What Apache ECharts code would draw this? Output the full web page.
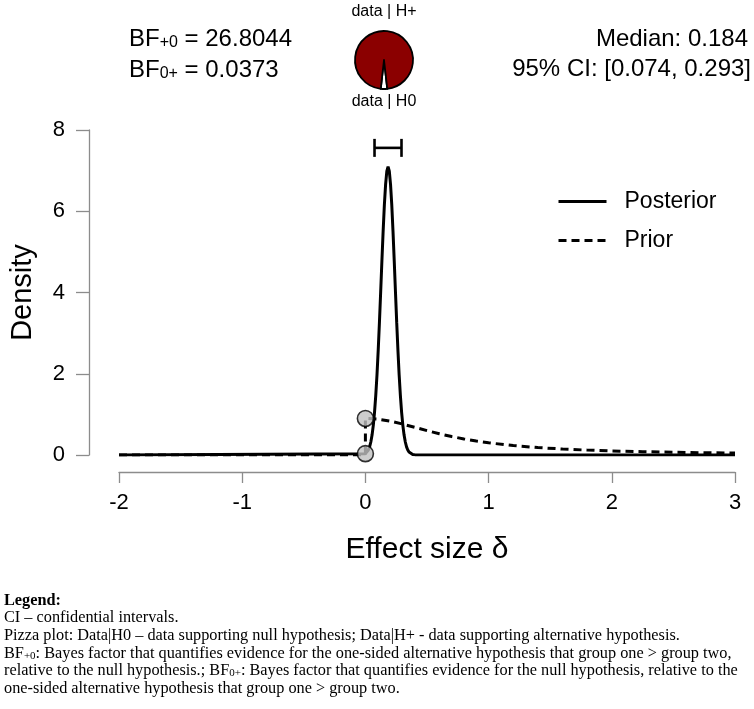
<!DOCTYPE html>
<html>
<head>
<meta charset="utf-8">
<script src="https://cdn.jsdelivr.net/npm/echarts@6/dist/echarts.min.js"></script>
<style>
html, body { margin: 0; padding: 0; background: #fff; }
#chart { width: 754px; height: 709px; }
</style>
</head>
<body>
<div id="chart"></div>
<script>
// ---- data ----
const posteriorX = [-2, 0, 0.004, 0.014, 0.024, 0.034, 0.044, 0.054, 0.064, 0.074, 0.084, 0.094, 0.104, 0.114, 0.124, 0.134, 0.144, 0.154, 0.164, 0.174, 0.184, 0.194, 0.204, 0.214, 0.224, 0.234, 0.244, 0.254, 0.264, 0.274, 0.284, 0.294, 0.304, 0.314, 0.324, 0.334, 0.344, 0.354, 0.364, 0.384, 0.404, 0.444, 3];
const posteriorY = [0, 0.033, 0.042, 0.073, 0.124, 0.20, 0.32, 0.49, 0.73, 1.05, 1.46, 1.97, 2.58, 3.27, 4.02, 4.78, 5.51, 6.16, 6.66, 6.99, 7.10, 6.99, 6.66, 6.16, 5.51, 4.78, 4.02, 3.27, 2.58, 1.97, 1.46, 1.05, 0.73, 0.49, 0.32, 0.20, 0.124, 0.073, 0.042, 0.013, 0.003, 0, 0];
const priorX = [-2, 0, 0, 0.1, 0.2, 0.3, 0.4, 0.5, 0.6, 0.7, 0.8, 0.9, 1.0, 1.2, 1.4, 1.6, 1.8, 2.0, 2.25, 2.5, 2.75, 3.0];
const priorY = [0, 0, 0.900, 0.883, 0.834, 0.763, 0.682, 0.600, 0.523, 0.455, 0.395, 0.344, 0.300, 0.232, 0.183, 0.147, 0.120, 0.100, 0.081, 0.067, 0.056, 0.047];
const pointX = [0, 0];
const pointY = [0.900, 0.033];
const ciBounds = [0.074, 0.293];
const medianValue = 0.184;
const bfNames = ['+0', '0+'];
const bfValues = ['26.8044', '0.0373'];
const pizzaNames = ['data | H0', 'data | H+'];
const pizzaValues = [0.0373, 1];
const seriesNames = ['Posterior', 'Prior'];
const xAxisTitle = 'Effect size \u03b4';
const yAxisTitle = 'Density';
const noteLines = [
  'CI \u2013 confidential intervals.',
  'Pizza plot: Data|H0 \u2013 data supporting null hypothesis; Data|H+ - data supporting alternative hypothesis.'
];

// ---- chart ----
const SANS = 'Liberation Sans, Arial, sans-serif';
const SERIF = 'Liberation Serif, Times New Roman, serif';
const chart = echarts.init(document.getElementById('chart'), null, { renderer: 'canvas' });

const zip = (xs, ys) => xs.map((x, i) => [x, ys[i]]);
const axisGrey = '#8c8c8c';

const subRich = {
  s: { fontSize: 16, fontFamily: SANS, fill: '#000', verticalAlign: 'bottom', lineHeight: 10 },
};
const noteRich = {
  s: { fontSize: 11, fontFamily: SERIF, fill: '#000', verticalAlign: 'bottom', lineHeight: 8 },
};
const NOTE_FONT = '16.3px ' + SERIF;

const option = {
  animation: false,
  backgroundColor: '#fff',
  grid: { left: 118, right: 19, top: 130, bottom: 254, containLabel: false },
  xAxis: {
    type: 'value', min: -2, max: 3, interval: 1, offset: 17,
    name: xAxisTitle, nameLocation: 'middle', nameGap: 63,
    nameTextStyle: { fontSize: 30, fontFamily: SANS, color: '#000' },
    axisLine: { show: true, onZero: false, lineStyle: { color: axisGrey, width: 1.3 } },
    axisTick: { show: true, length: 11, lineStyle: { color: axisGrey, width: 1.3 } },
    axisLabel: { fontSize: 22, fontFamily: SANS, color: '#000', margin: 20 },
    splitLine: { show: false }
  },
  yAxis: {
    type: 'value', min: 0, max: 8, interval: 2, offset: 30,
    name: yAxisTitle, nameLocation: 'middle', nameGap: 52, nameRotate: 90,
    nameTextStyle: { fontSize: 29, fontFamily: SANS, color: '#000' },
    axisLine: { show: true, onZero: false, lineStyle: { color: axisGrey, width: 1.3 } },
    axisTick: { show: true, length: 13, lineStyle: { color: axisGrey, width: 1.3 } },
    axisLabel: { fontSize: 22, fontFamily: SANS, color: '#000', margin: 24 },
    splitLine: { show: false }
  },
  legend: {
    data: seriesNames,
    orient: 'vertical', left: 552, top: 185,
    itemWidth: 48, itemHeight: 14, itemGap: 16,
    itemStyle: { opacity: 0 },
    lineStyle: { width: 3 },
    textStyle: { fontSize: 23, fontFamily: SANS, color: '#000', padding: [0, 0, 0, 13] },
    selectedMode: false
  },
  series: [
    {
      name: seriesNames[1], type: 'line', data: zip(priorX, priorY),
      symbol: 'none', z: 2,
      lineStyle: { color: '#000', width: 3, type: [8, 5] },
      itemStyle: { color: '#000' }
    },
    {
      name: seriesNames[0], type: 'line', data: zip(posteriorX, posteriorY),
      symbol: 'none', z: 3,
      lineStyle: { color: '#000', width: 3 },
      itemStyle: { color: '#000' }
    },
    {
      type: 'scatter', data: zip(pointX, pointY), z: 5,
      symbol: 'circle', symbolSize: 16,
      itemStyle: { color: '#c0c0c0', borderColor: '#000', borderWidth: 1.6 },
      silent: true
    },
    {
      type: 'custom', z: 4, silent: true,
      data: [[ciBounds[0], ciBounds[1], medianValue]],
      encode: { x: [0, 1] },
      renderItem: function (params, api) {
        const a = api.coord([api.value(0), 7.56]);
        const b = api.coord([api.value(1), 7.56]);
        const st = { stroke: '#000', lineWidth: 2.6 };
        return {
          type: 'group', children: [
            { type: 'line', shape: { x1: a[0], y1: a[1], x2: b[0], y2: b[1] }, style: st },
            { type: 'line', shape: { x1: a[0], y1: a[1] - 9, x2: a[0], y2: a[1] + 9 }, style: st },
            { type: 'line', shape: { x1: b[0], y1: b[1] - 9, x2: b[0], y2: b[1] + 9 }, style: st }
          ]
        };
      }
    },
    {
      type: 'pie', center: [384, 60], radius: 29, startAngle: -90 + 360 * pizzaValues[0] / (pizzaValues[0] + pizzaValues[1]) / 2,
      clockwise: true, silent: true, label: { show: false }, labelLine: { show: false },
      emphasis: { disabled: true },
      itemStyle: { borderColor: '#000', borderWidth: 1.8 },
      data: [
        { name: pizzaNames[0], value: pizzaValues[0], itemStyle: { color: '#ffffff' } },
        { name: pizzaNames[1], value: pizzaValues[1], itemStyle: { color: '#8b0000' } }
      ]
    }
  ],
  graphic: [
    { type: 'text', x: 384, y: 12, style: { text: pizzaNames[1], font: '16px ' + SANS, fill: '#000', textAlign: 'center', textVerticalAlign: 'middle' } },
    { type: 'text', x: 384, y: 102, style: { text: pizzaNames[0], font: '16px ' + SANS, fill: '#000', textAlign: 'center', textVerticalAlign: 'middle' } },
    { type: 'text', x: 129, y: 39, style: { text: 'BF{s|' + bfNames[0] + '} = ' + bfValues[0], font: '24px ' + SANS, fill: '#000', textAlign: 'left', textVerticalAlign: 'middle', rich: subRich } },
    { type: 'text', x: 129, y: 70, style: { text: 'BF{s|' + bfNames[1] + '} = ' + bfValues[1], font: '24px ' + SANS, fill: '#000', textAlign: 'left', textVerticalAlign: 'middle', rich: subRich } },
    { type: 'text', x: 748, y: 39, style: { text: 'Median: ' + medianValue.toFixed(3), font: '24px ' + SANS, fill: '#000', textAlign: 'right', textVerticalAlign: 'middle' } },
    { type: 'text', x: 751, y: 69, style: { text: '95% CI: [' + ciBounds[0].toFixed(3) + ', ' + ciBounds[1].toFixed(3) + ']', font: '24px ' + SANS, fill: '#000', textAlign: 'right', textVerticalAlign: 'middle' } },
    { type: 'text', x: 4, y: 601, style: { text: 'Legend:', font: 'bold ' + NOTE_FONT, fill: '#000', textAlign: 'left', textVerticalAlign: 'middle' } },
    { type: 'text', x: 4, y: 618, style: { text: noteLines[0], font: NOTE_FONT, fill: '#000', textAlign: 'left', textVerticalAlign: 'middle' } },
    { type: 'text', x: 4, y: 636, style: { text: noteLines[1], font: NOTE_FONT, fill: '#000', textAlign: 'left', textVerticalAlign: 'middle' } },
    { type: 'text', x: 4, y: 654, style: { text: 'BF{s|+0}: Bayes factor that quantifies evidence for the one-sided alternative hypothesis that group one > group two,', font: NOTE_FONT, fill: '#000', textAlign: 'left', textVerticalAlign: 'middle', rich: noteRich } },
    { type: 'text', x: 4, y: 671, style: { text: 'relative to the null hypothesis.; BF{s|0+}: Bayes factor that quantifies evidence for the null hypothesis, relative to the', font: NOTE_FONT, fill: '#000', textAlign: 'left', textVerticalAlign: 'middle', rich: noteRich } },
    { type: 'text', x: 4, y: 689, style: { text: 'one-sided alternative hypothesis that group one > group two.', font: NOTE_FONT, fill: '#000', textAlign: 'left', textVerticalAlign: 'middle' } }
  ]
};
chart.setOption(option);
</script>
</body>
</html>
